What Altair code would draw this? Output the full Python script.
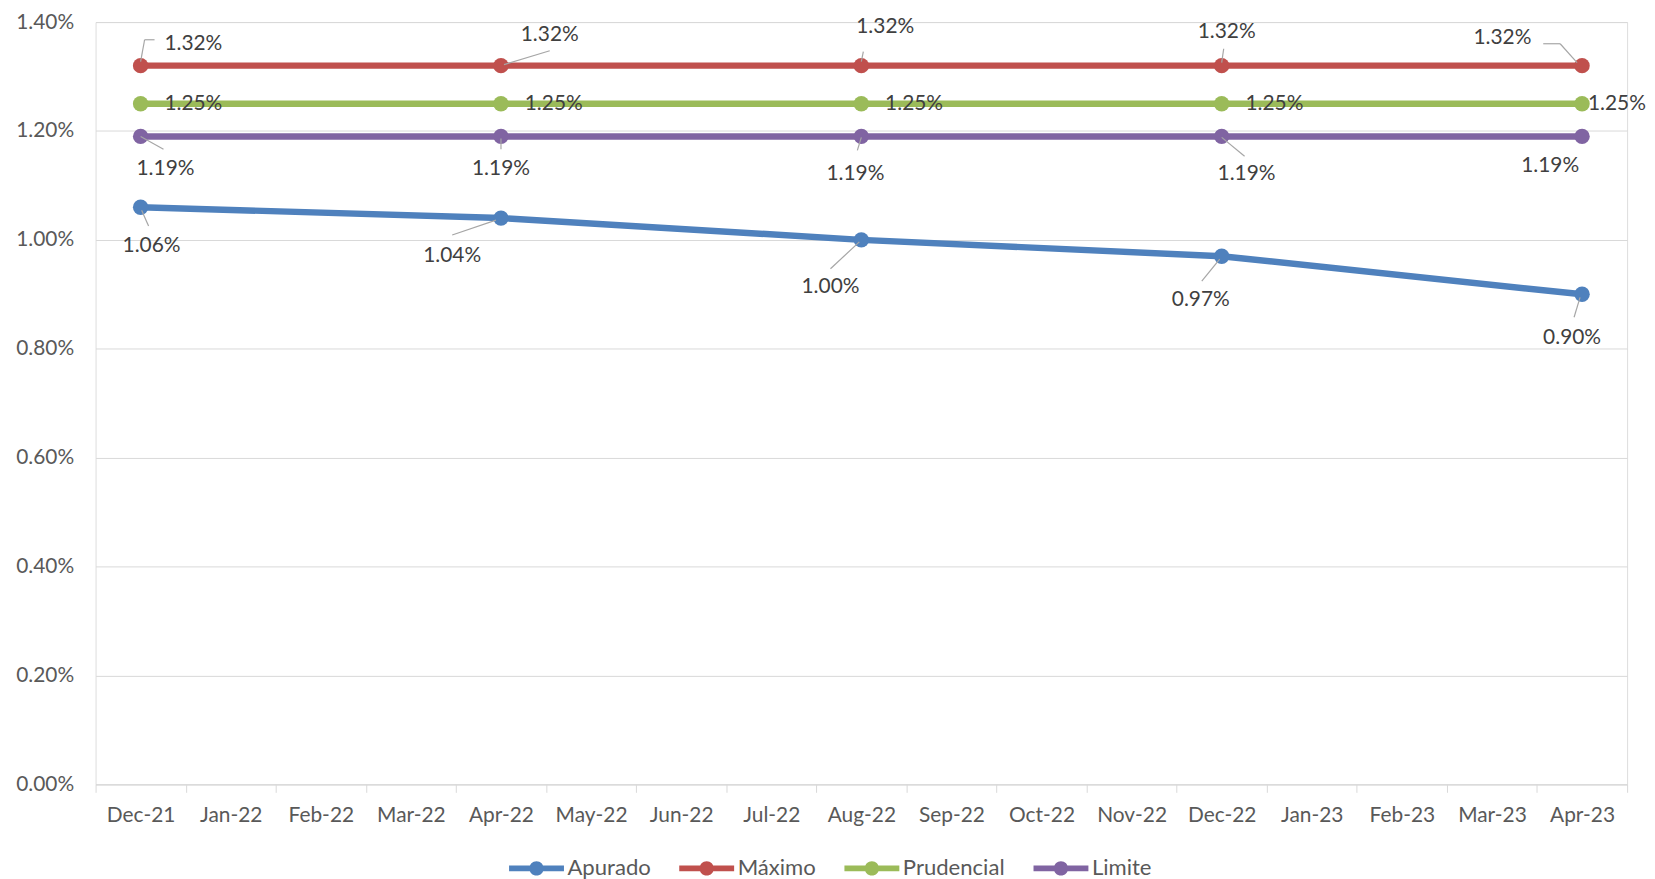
import altair as alt
import pandas as pd

# ---- data ----
months = ["Dec-21", "Jan-22", "Feb-22", "Mar-22", "Apr-22", "May-22", "Jun-22",
          "Jul-22", "Aug-22", "Sep-22", "Oct-22", "Nov-22", "Dec-22", "Jan-23",
          "Feb-23", "Mar-23", "Apr-23"]
obs_months = ["Dec-21", "Apr-22", "Aug-22", "Dec-22", "Apr-23"]
series_names = ["Apurado", "Máximo", "Prudencial", "Limite"]
apurado = [1.06, 1.04, 1.00, 0.97, 0.90]
maximo = [1.32, 1.32, 1.32, 1.32, 1.32]
prudencial = [1.25, 1.25, 1.25, 1.25, 1.25]
limite = [1.19, 1.19, 1.19, 1.19, 1.19]
y_ticks = [0.0, 0.2, 0.4, 0.6, 0.8, 1.0, 1.2, 1.4]

colors = ["#4F81BD", "#C0504D", "#9BBB59", "#8064A2"]

rows = []
for name, vals in zip(series_names, [apurado, maximo, prudencial, limite]):
    for m, v in zip(obs_months, vals):
        rows.append({"series": name, "month": m, "value": v / 100})
df = pd.DataFrame(rows)

# ---- label placement (pixel offsets from each point) ----
label_offsets = {
    "Máximo": [(53, -22), (49, -31), (24, -39), (5, -34), (-80, -28)],
    "Prudencial": [(53, 0), (53, 0), (53, 0), (53, 0), (35, 0)],
    "Limite": [(25, 33), (0, 33), (-6, 38), (25, 38), (-32, 30)],
    "Apurado": [(11, 39), (-49, 38), (-31, 47), (-21, 44), (-10, 44)],
}
leader_segments = {
    "Máximo": [[(0, -4, 4, -26), (4, -26, 14, -26)], [(3, -1, 49, -15)],
               [(0, -4, 2, -14)], [(0, -3, 2, -17)],
               [(-5, -3, -22, -22), (-22, -22, -39, -22)]],
    "Limite": [[(0, 0, 23, 13)], [(0, 2, 0, 13)], [(0, 1, -4, 14)],
               [(0, 1, 23, 20)], []],
    "Apurado": [[(1, 3, 8, 19)], [(-5, 2, -49, 17)], [(-2, 2, -31, 29)],
                [(-2, 3, -20, 25)], [(-2, 3, -8, 23)]],
}

FONT = "Lato"
W, H = 1539, 766

xenc = alt.X("month:O",
             scale=alt.Scale(type="band", domain=months, paddingInner=0, paddingOuter=0),
             axis=alt.Axis(title=None, labelAngle=0, domainColor="#D9D9D9", domainWidth=1,
                           tickColor="#D9D9D9", tickSize=8, tickBand="extent",
                           labelFont=FONT, labelFontSize=21, labelColor="#595959",
                           labelPadding=12, grid=False))
yenc = alt.Y("value:Q",
             scale=alt.Scale(domain=[0, 0.014], nice=False),
             axis=alt.Axis(title=None, format=".2%", values=[v / 100 for v in y_ticks],
                           grid=True, gridColor="#D9D9D9", gridWidth=1, domain=False,
                           ticks=False, tickSize=0, labelPadding=22,
                           labelFont=FONT, labelFontSize=21, labelColor="#595959"))
cscale = alt.Scale(domain=series_names, range=colors)

legend_path = ("M-2.6,-0.27 L2.6,-0.27 L2.6,0.27 L-2.6,0.27 Z "
               "M-0.68,0 A0.68,0.68 0 1,1 0.68,0 A0.68,0.68 0 1,1 -0.68,0 Z")


def make_legend():
    return alt.Legend(title=None, orient="none", direction="horizontal",
                      legendX=432, legendY=839,
                      symbolType=legend_path, symbolSize=450,
                      symbolStrokeWidth=0, symbolOpacity=1,
                      labelFont=FONT, labelFontSize=22.2,
                      labelColor="#595959", labelOffset=20,
                      columnPadding=28)


base = alt.Chart(df)

lines = base.mark_line(strokeWidth=6.5).encode(
    x=xenc, y=yenc,
    color=alt.Color("series:N", scale=cscale, legend=make_legend()),
    detail="series:N",
)
points = base.mark_point(filled=True, shape="circle", size=240, opacity=1).encode(
    x=xenc, y=yenc,
    color=alt.Color("series:N", scale=cscale, legend=make_legend()),
)

layers = [lines, points]

for s, segs_list in leader_segments.items():
    for m, segs in zip(obs_months, segs_list):
        for (x1, y1, x2, y2) in segs:
            layers.append(
                base.transform_filter((alt.datum.series == s) & (alt.datum.month == m))
                .mark_rule(color="#A6A6A6", strokeWidth=1.2,
                           xOffset=x1, yOffset=y1, x2Offset=x2, y2Offset=y2)
                .encode(x=xenc, y=yenc, x2="month:O", y2="value:Q")
            )

for s, offs in label_offsets.items():
    for m, (dx, dy) in zip(obs_months, offs):
        layers.append(
            base.transform_filter((alt.datum.series == s) & (alt.datum.month == m))
            .mark_text(dx=dx, dy=dy, font=FONT, fontSize=21, color="#404040")
            .encode(x=xenc, y=yenc, text=alt.Text("value:Q", format=".2%"))
        )

chart = alt.layer(*layers).properties(
    width=W, height=H,
    autosize=alt.AutoSizeParams(type="none"),
    padding={"left": 88, "top": 12, "right": 20, "bottom": 100},
).configure_view(stroke=None).configure(background="white")

chart.save("out.html", embed_options={"renderer": "svg", "actions": False})
